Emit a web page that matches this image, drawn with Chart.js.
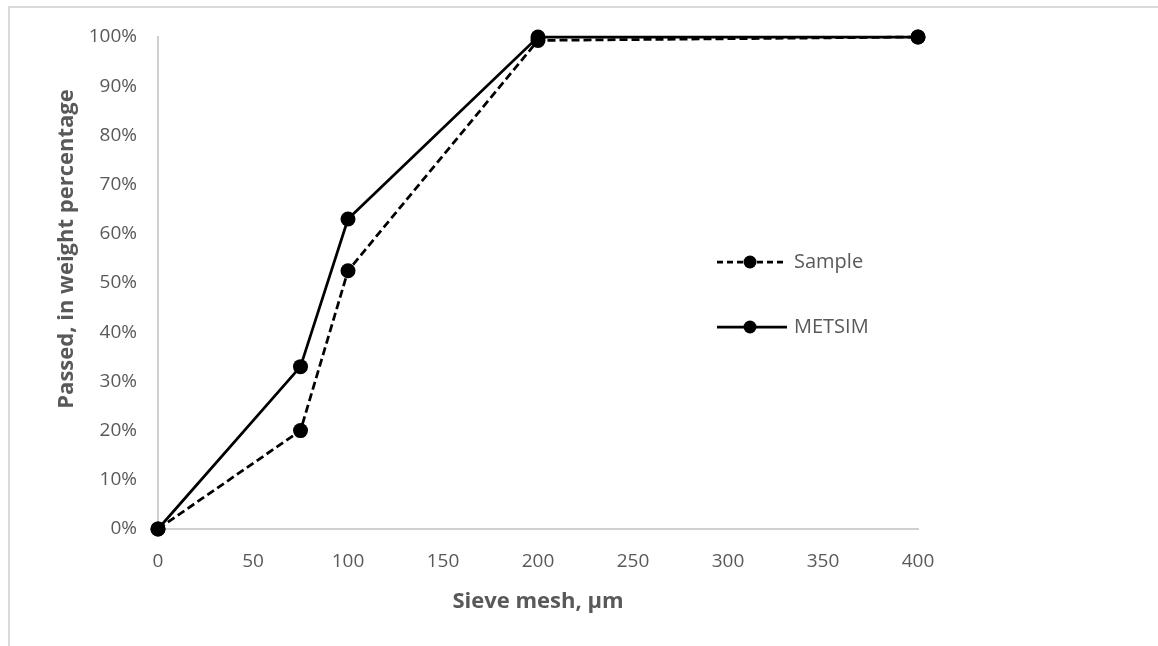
<!DOCTYPE html>
<html>
<head>
<meta charset="utf-8">
<script src="https://cdn.jsdelivr.net/npm/chart.js@4.4.1/dist/chart.umd.min.js"></script>
<style>
  html, body { margin: 0; padding: 0; background: #ffffff; }
  #wrap { position: relative; width: 1158px; height: 646px; overflow: hidden; }
  #frame { position: absolute; left: 8px; top: 6px; width: 1300px; height: 800px;
           border-top: 2px solid #d9d9d9; border-left: 2px solid #d9d9d9; box-sizing: border-box; }
  canvas { position: absolute; left: 0; top: 0; }
</style>
</head>
<body>
<div id="wrap">
  <div id="frame"></div>
  <canvas id="c" width="1158" height="646"></canvas>
</div>
<script>
// Sieve sizes (µm) and cumulative % passing
const sieveMesh = [0, 75, 100, 200, 400];
const samplePassed = [0, 20, 52.5, 99.3, 100];
const metsimPassed = [0, 33, 63, 100, 100];
const xTicks = [0, 50, 100, 150, 200, 250, 300, 350, 400];
const yTicks = [0, 10, 20, 30, 40, 50, 60, 70, 80, 90, 100];
const yTitle = 'Passed, in weight percentage';
const xTitle = 'Sieve mesh, µm';

const FONT = '"Open Sans", "Liberation Sans", sans-serif';
const GREY = '#595959';
const AXIS = '#d0d0d0';

const toPoints = (xs, ys) => xs.map((x, i) => ({ x: x, y: ys[i] }));

// Vertical axis title, set a little above the middle of the axis
const yAxisTitle = {
  id: 'yAxisTitle',
  afterDraw(chart) {
    const ctx = chart.ctx;
    ctx.save();
    ctx.translate(67, 249);
    ctx.rotate(-Math.PI / 2);
    ctx.fillStyle = GREY;
    ctx.font = 'bold 22px ' + FONT;
    ctx.textAlign = 'center';
    ctx.textBaseline = 'middle';
    ctx.fillText(yTitle, 0, 0);
    ctx.restore();
  }
};

// Legend drawn inside the plot area, at the right of the curves
const innerLegend = {
  id: 'innerLegend',
  afterDraw(chart) {
    const ctx = chart.ctx;
    const rows = [
      { ds: chart.data.datasets[0], y: 262 },
      { ds: chart.data.datasets[1], y: 327 }
    ];
    const x0 = 717, x1 = 787, mx = 750;
    rows.forEach(r => {
      ctx.save();
      ctx.strokeStyle = r.ds.borderColor;
      ctx.lineWidth = r.ds.borderWidth;
      ctx.setLineDash(r.ds.borderDash ? [6, 4] : []);
      ctx.beginPath();
      ctx.moveTo(x0, r.y);
      ctx.lineTo(x1, r.y);
      ctx.stroke();
      ctx.setLineDash([]);
      ctx.fillStyle = r.ds.pointBackgroundColor;
      ctx.beginPath();
      ctx.arc(mx, r.y, 6.5, 0, Math.PI * 2);
      ctx.fill();
      ctx.fillStyle = GREY;
      ctx.font = '20px ' + FONT;
      ctx.textBaseline = 'middle';
      ctx.textAlign = 'left';
      ctx.fillText(r.ds.label, 794, r.y);
      ctx.restore();
    });
  }
};

new Chart(document.getElementById('c'), {
  type: 'scatter',
  data: {
    datasets: [
      {
        label: 'Sample',
        data: toPoints(sieveMesh, samplePassed),
        showLine: true,
        clip: false,
        borderColor: '#000000',
        borderWidth: 2.75,
        borderDash: [8, 4],
        pointRadius: 7.5,
        pointBackgroundColor: '#000000',
        pointBorderWidth: 0,
        order: 2
      },
      {
        label: 'METSIM',
        data: toPoints(sieveMesh, metsimPassed),
        showLine: true,
        clip: false,
        borderColor: '#000000',
        borderWidth: 2.75,
        pointRadius: 7.5,
        pointBackgroundColor: '#000000',
        pointBorderWidth: 0,
        order: 1
      }
    ]
  },
  options: {
    responsive: false,
    animation: false,
    layout: { padding: { left: 0, top: 37, right: 240, bottom: 0 } },
    plugins: { legend: { display: false }, tooltip: { enabled: false } },
    scales: {
      x: {
        type: 'linear',
        min: 0, max: 400,
        afterBuildTicks: s => { s.ticks = xTicks.map(v => ({ value: v })); },
        afterFit: s => { s.height = 117; },
        grid: { display: true, drawOnChartArea: false, drawTicks: false },
        border: { display: true, color: AXIS, width: 2 },
        ticks: { color: GREY, font: { family: FONT, size: 19 }, padding: 21, maxRotation: 0 },
        title: {
          display: true, text: xTitle, color: GREY,
          font: { family: FONT, size: 22, weight: 'bold' },
          padding: { top: 0, bottom: 31 }
        }
      },
      y: {
        type: 'linear',
        min: 0, max: 100,
        afterBuildTicks: s => { s.ticks = yTicks.map(v => ({ value: v })); },
        afterFit: s => { s.width = 158; },
        grid: { display: true, drawOnChartArea: false, drawTicks: false },
        border: { display: true, color: AXIS, width: 2 },
        ticks: { color: GREY, font: { family: FONT, size: 19 }, padding: 21, callback: v => v + '%' },
        title: { display: false }
      }
    }
  },
  plugins: [yAxisTitle, innerLegend]
});
</script>
</body>
</html>
